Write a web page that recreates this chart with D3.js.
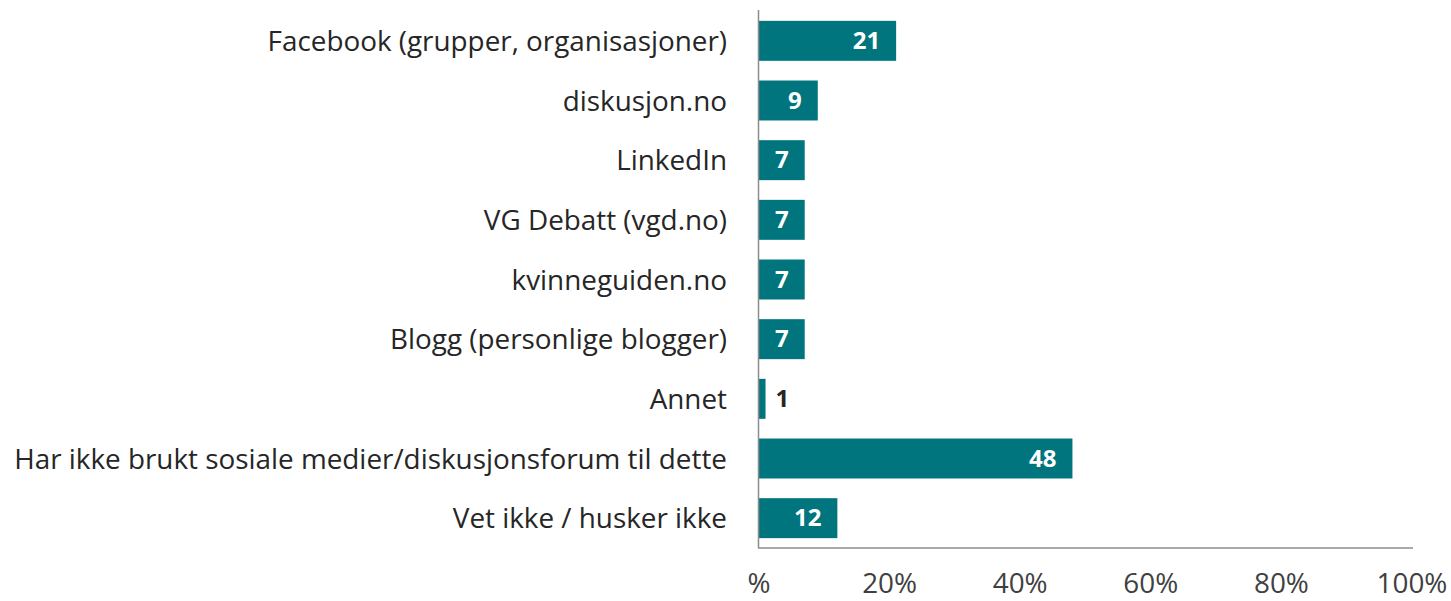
<!DOCTYPE html>
<html>
<head>
<meta charset="utf-8">
<script src="https://cdn.jsdelivr.net/npm/d3@7"></script>
<style>
  body { margin: 0; background: #fff; }
  text { font-family: "Open Sans", "Noto Sans", sans-serif; }
</style>
</head>
<body>
<script>
// data
var categories = [
  "Facebook (grupper, organisasjoner)",
  "diskusjon.no",
  "LinkedIn",
  "VG Debatt (vgd.no)",
  "kvinneguiden.no",
  "Blogg (personlige blogger)",
  "Annet",
  "Har ikke brukt sosiale medier/diskusjonsforum til dette",
  "Vet ikke / husker ikke"
];
var values = [21, 9, 7, 7, 7, 7, 1, 48, 12];
var tickValues = [0, 20, 40, 60, 80, 100];
var tickLabels = ["%", "20%", "40%", "60%", "80%", "100%"];

var w = 1451, h = 601;
var x0 = 759, x1 = 1412; // plot left/right
var y0 = 11, y1 = 548;   // plot top/bottom
var barColor = "#00757e";

var svg = d3.select("body").append("svg").attr("width", w).attr("height", h);

var x = d3.scaleLinear().domain([0, 100]).range([x0, x1]);
var y = d3.scaleBand().domain(categories).range([y0, y1]).paddingInner(0.33).paddingOuter(0.165);

// bars
svg.selectAll("rect.bar").data(values).enter().append("rect")
  .attr("class", "bar")
  .attr("x", x(0))
  .attr("y", function(d, i) { return y(categories[i]); })
  .attr("width", function(d) { return x(d) - x(0); })
  .attr("height", y.bandwidth())
  .attr("fill", barColor);

// value labels - inside the bar unless it is too short
svg.selectAll("text.val").data(values).enter().append("text")
  .attr("class", "val")
  .text(function(d) { return d; })
  .attr("text-anchor", function(d) { return d < 4 ? "start" : "end"; })
  .attr("x", function(d) { return d < 4 ? x(d) + 10 : x(d) - 16; })
  .attr("y", function(d, i) { return y(categories[i]) + y.bandwidth() / 2 + 8; })
  .attr("font-size", "24px")
  .attr("font-weight", "bold")
  .attr("fill", function(d) { return d < 4 ? "#262626" : "#ffffff"; });

// category labels
var cats = svg.selectAll("text.cat").data(categories).enter().append("text")
  .attr("class", "cat")
  .text(function(d) { return d; })
  .attr("text-anchor", "end")
  .attr("x", 727)
  .attr("y", function(d) { return y(d) + y.bandwidth() / 2 + 10; })
  .attr("font-size", "28px")
  .attr("fill", "#262626");

// shrink the label font so the longest one spans the same width as in the original
var longest = d3.max(cats.nodes(), function(n) { return n.getComputedTextLength(); });
var catSize = 28 * 713 / longest;
cats.attr("font-size", catSize + "px");

// axes lines
svg.append("line").attr("x1", x0 - 0.5).attr("x2", x0 - 0.5).attr("y1", 10).attr("y2", y1)
  .attr("stroke", "#8c8c8c").attr("stroke-width", 1.5);
svg.append("line").attr("x1", x0 - 1).attr("x2", x1 + 1).attr("y1", y1).attr("y2", y1)
  .attr("stroke", "#8c8c8c").attr("stroke-width", 1.5);

// x tick labels
svg.selectAll("text.tick").data(tickValues).enter().append("text")
  .attr("class", "tick")
  .text(function(d, i) { return tickLabels[i]; })
  .attr("text-anchor", "middle")
  .attr("x", function(d) { return x(d); })
  .attr("y", 593)
  .attr("font-size", catSize + "px")
  .attr("fill", "#404040");
</script>
</body>
</html>
